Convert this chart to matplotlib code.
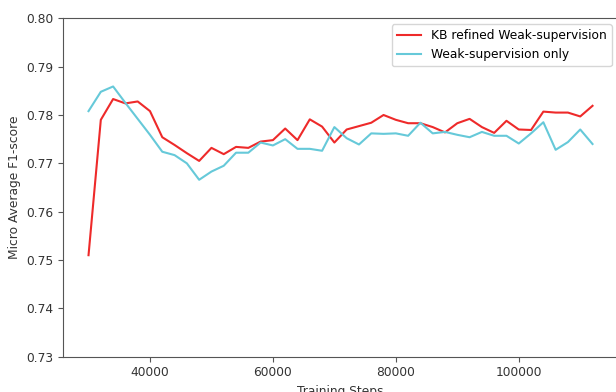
import matplotlib
matplotlib.use("Agg")
import matplotlib.pyplot as plt

# Training steps: 30000 .. 112000 every 2000
steps = list(range(30000, 112001, 2000))

kb_refined = [
    0.7510, 0.7790, 0.7833, 0.7824, 0.7828, 0.7808, 0.7754, 0.7738, 0.7721, 0.7705,
    0.7732, 0.7719, 0.7734, 0.7732, 0.7745, 0.7748, 0.7772, 0.7748, 0.7791, 0.7776,
    0.7743, 0.7770, 0.7777, 0.7784, 0.7800, 0.7790, 0.7783, 0.7783, 0.7775, 0.7764,
    0.7783, 0.7792, 0.7775, 0.7763, 0.7788, 0.7770, 0.7769, 0.7807, 0.7805, 0.7805,
    0.7797, 0.7819,
]
weak_only = [
    0.7808, 0.7848, 0.7859, 0.7825, 0.7792, 0.7759, 0.7724, 0.7717, 0.7700, 0.7666,
    0.7683, 0.7695, 0.7722, 0.7722, 0.7743, 0.7737, 0.7750, 0.7730, 0.7730, 0.7726,
    0.7775, 0.7752, 0.7739, 0.7762, 0.7761, 0.7762, 0.7757, 0.7784, 0.7762, 0.7765,
    0.7759, 0.7754, 0.7765, 0.7757, 0.7757, 0.7741, 0.7762, 0.7785, 0.7728, 0.7744,
    0.7770, 0.7740,
]

plt.rcParams["font.family"] = "DejaVu Sans"
plt.rcParams["font.size"] = 8.8

fig = plt.figure(figsize=(6.16, 3.92), dpi=100)
ax = fig.add_axes([0.1028, 0.09, 0.9, 0.8633])

ax.plot(steps, kb_refined, color="#ee2a2a", lw=1.5, label="KB refined Weak-supervision")
ax.plot(steps, weak_only, color="#66c9d9", lw=1.5, label="Weak-supervision only")

ax.set_ylim(0.73, 0.80)
ax.set_yticks([0.73, 0.74, 0.75, 0.76, 0.77, 0.78, 0.79, 0.80])
ax.set_xticks([40000, 60000, 80000, 100000])
ax.set_xlabel("Training Steps", color="#333333")
ax.set_ylabel("Micro Average F1-score", color="#333333")

for s in ax.spines.values():
    s.set_color("#555555")
ax.tick_params(colors="#555555", labelcolor="#333333")

ax.legend(loc="upper right", frameon=True, edgecolor="#cccccc", fontsize=8.8)

fig.savefig("out.png", dpi=100)
